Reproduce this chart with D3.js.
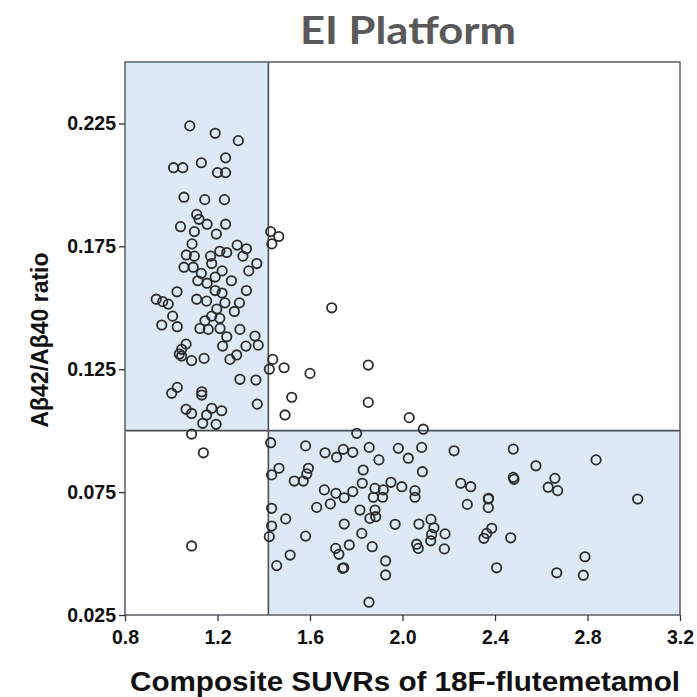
<!DOCTYPE html>
<html>
<head>
<meta charset="utf-8">
<script src="https://cdn.jsdelivr.net/npm/d3@7"></script>
<style>
  body { margin: 0; background: #fff; }
  svg { display: block; }
</style>
</head>
<body>
<div id="chart"></div>
<script>
// values
var xTicks = [0.8, 1.2, 1.6, 2.0, 2.4, 2.8, 3.2];
var yTicks = [0.025, 0.075, 0.125, 0.175, 0.225];
var suvrCutoff = 1.42;
var ratioCutoff = 0.1;

var suvr = [
  1.08, 1.19, 1.29, 1.01, 1.05, 1.13, 1.235, 1.20, 1.235, 1.055,
  1.145, 1.23, 1.11, 1.12, 1.155, 1.04, 1.235, 1.10, 1.195, 1.43,
  1.465, 1.435, 1.09, 1.285, 1.325, 1.065, 1.10, 1.17, 1.21, 1.24,
  1.175, 1.31, 1.37, 1.055, 1.095, 1.22, 1.335, 1.13, 1.115, 1.155,
  1.19, 1.26, 1.025, 1.19, 1.22, 1.325, 0.935, 0.963, 0.987, 1.11,
  1.153, 1.232, 1.295, 1.197, 1.273, 1.006, 1.175, 1.21, 1.146, 0.959,
  1.026, 1.124, 1.16, 1.211, 1.297, 1.362, 1.24, 1.222, 1.064, 1.045,
  1.035, 1.045, 1.323, 1.376, 1.088, 1.142, 1.283, 1.254, 1.439, 1.424,
  1.488, 1.297, 1.366, 1.026, 1.002, 1.132, 1.132, 1.521, 1.372, 1.064,
  1.088, 1.175, 1.218, 1.153, 1.136, 1.194, 1.492, 1.088, 1.139, 1.088,
  1.694, 1.60, 1.852, 1.852, 2.029, 2.09, 1.802, 1.43, 1.581, 1.665,
  1.715, 1.744, 1.785, 1.856, 1.898, 1.982, 2.025, 2.083, 2.223, 2.086,
  1.466, 1.434, 1.593, 1.586, 1.532, 1.571, 1.83, 1.826, 1.95, 1.997,
  1.881, 1.917, 1.874, 1.914, 2.054, 2.054, 1.662, 1.712, 1.748, 1.785,
  2.252, 2.295, 2.28, 1.434, 1.629, 1.688, 1.816, 1.881, 1.859, 1.884,
  1.495, 1.748, 1.968, 2.071, 2.123, 2.136, 2.126, 2.122, 2.184, 2.181,
  1.434, 1.424, 1.581, 1.824, 1.711, 1.725, 1.77, 1.869, 2.061, 2.068,
  1.514, 1.456, 1.741, 1.746, 1.927, 1.927, 1.855, 2.479, 2.577, 2.837,
  2.479, 2.482, 2.659, 2.63, 2.671, 2.371, 2.371, 2.372, 3.017, 2.386,
  2.364, 2.352, 2.468, 2.789, 2.407, 2.667, 2.782
];

var ratio = [
  0.224, 0.221, 0.218, 0.207, 0.207, 0.209, 0.211, 0.205, 0.205, 0.195,
  0.194, 0.194, 0.188, 0.186, 0.184, 0.183, 0.184, 0.181, 0.180, 0.181,
  0.179, 0.176, 0.176, 0.1755, 0.174, 0.1715, 0.171, 0.171, 0.173, 0.1725,
  0.168, 0.171, 0.168, 0.1665, 0.1665, 0.165, 0.165, 0.164, 0.161, 0.160,
  0.1625, 0.161, 0.1565, 0.157, 0.156, 0.157, 0.1535, 0.1525, 0.1515, 0.1535,
  0.1527, 0.152, 0.152, 0.1495, 0.1485, 0.1466, 0.1466, 0.1457, 0.1447, 0.143,
  0.1423, 0.1416, 0.1412, 0.1416, 0.1412, 0.1385, 0.1382, 0.1344, 0.1352, 0.1331,
  0.1312, 0.1304, 0.1344, 0.1348, 0.1285, 0.1294, 0.1308, 0.129, 0.129, 0.125,
  0.1256, 0.1209, 0.1206, 0.1176, 0.1152, 0.1158, 0.1145, 0.1136, 0.1108, 0.1087,
  0.107, 0.1091, 0.1081, 0.1064, 0.103, 0.1026, 0.1064, 0.0986, 0.091, 0.0531,
  0.150, 0.1233, 0.1267, 0.1115, 0.1053, 0.1006, 0.0989, 0.0951, 0.0938, 0.091,
  0.0892, 0.0924, 0.0912, 0.0932, 0.0881, 0.0928, 0.0888, 0.0932, 0.0918, 0.0833,
  0.0847, 0.082, 0.0847, 0.0824, 0.0795, 0.0795, 0.084, 0.0786, 0.079, 0.0772,
  0.0765, 0.0759, 0.0729, 0.0729, 0.0756, 0.0729, 0.0759, 0.0745, 0.0727, 0.0752,
  0.0786, 0.0772, 0.070, 0.0684, 0.0688, 0.0702, 0.0677, 0.0677, 0.0643, 0.065,
  0.0641, 0.062, 0.0619, 0.062, 0.0639, 0.0605, 0.0578, 0.0552, 0.058, 0.0519,
  0.0612, 0.0569, 0.0571, 0.0582, 0.0521, 0.0497, 0.0535, 0.0528, 0.0538, 0.0521,
  0.0494, 0.0451, 0.044, 0.0442, 0.047, 0.0413, 0.0302, 0.0925, 0.0857, 0.0881,
  0.081, 0.0802, 0.0806, 0.077, 0.0756, 0.0722, 0.0687, 0.0725, 0.0722, 0.0603,
  0.0582, 0.0562, 0.0564, 0.0487, 0.0442, 0.0422, 0.0412
];

var width = 697,
  height = 697;
var margin = { top: 62, right: 17, bottom: 82, left: 125 };
var plotW = width - margin.left - margin.right,
  plotH = height - margin.top - margin.bottom;

var points = suvr.map(function (d, i) {
  return { x: d, y: ratio[i] };
});

var x = d3.scaleLinear().domain([0.8, 3.2]).range([0, plotW]);
var y = d3.scaleLinear().domain([0.025, 0.25]).range([plotH, 0]);

var svg = d3
  .select("#chart")
  .append("svg")
  .attr("width", width)
  .attr("height", height);

svg
  .append("text")
  .attr("x", 408)
  .attr("y", 44)
  .attr("text-anchor", "middle")
  .attr("font-family", "Lato, 'Open Sans', sans-serif")
  .attr("font-weight", "bold")
  .attr("font-size", 38)
  .attr("fill", "#595959")
  .attr("textLength", 216)
  .attr("lengthAdjust", "spacingAndGlyphs")
  .text("EI Platform");

var g = svg
  .append("g")
  .attr("transform", "translate(" + margin.left + "," + margin.top + ")");

// shaded quadrants: low SUVR / high ratio and high SUVR / low ratio
var quadrants = [
  { x0: 0.8, x1: suvrCutoff, y0: ratioCutoff, y1: 0.25 },
  { x0: suvrCutoff, x1: 3.2, y0: 0.025, y1: ratioCutoff },
];
g.selectAll("rect.quad")
  .data(quadrants)
  .enter()
  .append("rect")
  .attr("class", "quad")
  .attr("x", function (d) {
    return x(d.x0);
  })
  .attr("y", function (d) {
    return y(d.y1);
  })
  .attr("width", function (d) {
    return x(d.x1) - x(d.x0);
  })
  .attr("height", function (d) {
    return y(d.y0) - y(d.y1);
  })
  .attr("fill", "#dde9f5");

// cutoff lines
g.append("line")
  .attr("x1", x(suvrCutoff))
  .attr("x2", x(suvrCutoff))
  .attr("y1", 0)
  .attr("y2", plotH)
  .attr("stroke", "#4a4f55")
  .attr("stroke-width", 1.6);
g.append("line")
  .attr("x1", 0)
  .attr("x2", plotW)
  .attr("y1", y(ratioCutoff))
  .attr("y2", y(ratioCutoff))
  .attr("stroke", "#4a4f55")
  .attr("stroke-width", 1.6);

g.selectAll("circle")
  .data(points)
  .enter()
  .append("circle")
  .attr("cx", function (d) {
    return x(d.x);
  })
  .attr("cy", function (d) {
    return y(d.y);
  })
  .attr("r", 4.7)
  .attr("fill", "none")
  .attr("stroke", "#2b2b2b")
  .attr("stroke-width", 1.8);

// frame
g.append("rect")
  .attr("width", plotW)
  .attr("height", plotH)
  .attr("fill", "none")
  .attr("stroke", "#5a5f66")
  .attr("stroke-width", 1.5);

var xAxis = g
  .append("g")
  .attr("transform", "translate(0," + plotH + ")")
  .call(
    d3
      .axisBottom(x)
      .tickValues(xTicks)
      .tickSize(6)
      .tickPadding(4)
      .tickFormat(d3.format(".1f"))
  );
var yAxis = g.append("g").call(
  d3
    .axisLeft(y)
    .tickValues(yTicks)
    .tickSize(6)
    .tickPadding(3)
    .tickFormat(d3.format(".3f"))
);

[xAxis, yAxis].forEach(function (ax) {
  ax.select(".domain").remove();
  ax.selectAll(".tick line").attr("stroke", "#333").attr("stroke-width", 1.3);
  ax.selectAll(".tick text")
    .attr("font-family", "'Liberation Sans', Arial, sans-serif")
    .attr("font-weight", "bold")
    .attr("font-size", 19.5)
    .attr("fill", "#111");
});
xAxis.selectAll(".tick text").attr("dy", "0.95em");

svg
  .append("text")
  .attr("x", 405)
  .attr("y", 691)
  .attr("text-anchor", "middle")
  .attr("font-family", "'Liberation Sans', Arial, sans-serif")
  .attr("font-weight", "bold")
  .attr("font-size", 27)
  .attr("fill", "#111")
  .attr("textLength", 550)
  .attr("lengthAdjust", "spacingAndGlyphs")
  .text("Composite SUVRs of 18F-flutemetamol");

svg
  .append("text")
  .attr("transform", "translate(48,340) rotate(-90)")
  .attr("text-anchor", "middle")
  .attr("font-family", "'Liberation Sans', Arial, sans-serif")
  .attr("font-weight", "bold")
  .attr("font-size", 23)
  .attr("fill", "#111")
  .text("Aβ42/Aβ40 ratio");
</script>
</body>
</html>
